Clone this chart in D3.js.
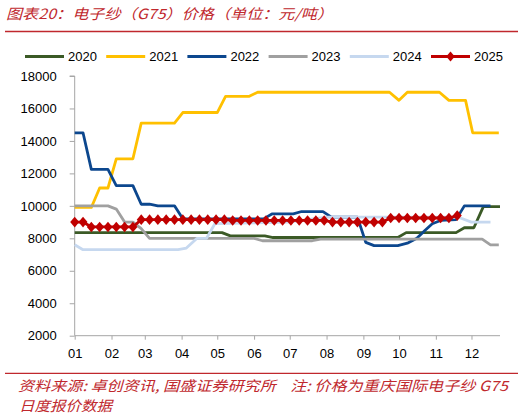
<!DOCTYPE html>
<html>
<head>
<meta charset="utf-8">
<script src="https://cdn.jsdelivr.net/npm/d3@7"></script>
<style>
  body { margin: 0; background: #fff; }
  svg { display: block; }
  .note { white-space: pre; }
</style>
</head>
<body>
<svg id="chart" width="526" height="419"></svg>
<script>
// series: [month-day, price]
const years = ["2020", "2021", "2022", "2023", "2024", "2025"];
const colors = ["#3b5a26", "#ffc000", "#0c478e", "#a0a0a0", "#c6d8ef", "#c00000"];

const s2020 = [["01-01", 8350], ["05-05", 8350], ["05-12", 8150], ["06-10", 8150], ["06-17", 8050],
  ["09-30", 8050], ["10-07", 8350], ["11-18", 8350], ["11-25", 8650], ["12-03", 8650],
  ["12-11", 9950], ["12-25", 9950]];
const s2021 = [["01-01", 9900], ["01-15", 9900], ["01-22", 11100], ["01-29", 11100], ["02-05", 12900],
  ["02-19", 12900], ["02-26", 15100], ["03-26", 15100], ["04-02", 15750], ["05-01", 15750],
  ["05-08", 16750], ["05-28", 16750], ["06-04", 17000], ["09-23", 17000], ["10-01", 16500],
  ["10-08", 17000], ["11-04", 17000], ["11-12", 16500], ["11-26", 16500], ["12-02", 14500],
  ["12-24", 14500]];
const s2022 = [["01-01", 14500], ["01-08", 14500], ["01-15", 12250], ["01-29", 12250], ["02-05", 11250],
  ["02-19", 11250], ["02-26", 10100], ["03-05", 10100], ["03-12", 10000], ["03-26", 10000],
  ["04-02", 9200], ["06-09", 9200], ["06-16", 9500], ["07-04", 9500], ["07-11", 9650],
  ["07-29", 9650], ["08-05", 9300], ["08-27", 9300], ["09-03", 7750], ["09-10", 7550],
  ["09-30", 7550], ["10-08", 7700], ["10-16", 8000], ["10-23", 8500], ["10-29", 8900],
  ["11-05", 9100], ["11-18", 9150], ["11-25", 10000], ["12-17", 10000]];
const s2023 = [["01-01", 10000], ["01-29", 10000], ["02-05", 9800], ["02-12", 9000], ["02-19", 9000],
  ["02-26", 8600], ["03-05", 8000], ["06-01", 8000], ["06-08", 7850], ["07-20", 7850],
  ["07-27", 7950], ["12-10", 7950], ["12-17", 7600], ["12-24", 7600]];
const s2024 = [["01-01", 7600], ["01-08", 7300], ["03-29", 7300], ["04-05", 7400], ["04-14", 8000],
  ["04-22", 8000], ["04-29", 8900], ["06-30", 9000], ["08-01", 9300], ["11-20", 9300],
  ["12-01", 9000], ["12-17", 9000]];
const dates2025 = ["01-01", "01-08", "01-15", "01-22", "01-29", "02-05", "02-12", "02-19", "02-26",
  "03-05", "03-12", "03-19", "03-26", "04-02", "04-09", "04-16", "04-23", "04-30",
  "05-07", "05-14", "05-21", "05-28", "06-04", "06-11", "06-18", "06-25",
  "07-02", "07-09", "07-16", "07-23", "07-30", "08-06", "08-13", "08-20", "08-27",
  "09-03", "09-10", "09-17", "09-24", "10-01", "10-08", "10-15", "10-22", "10-29",
  "11-05", "11-12", "11-19"];
const values2025 = [9000, 9000, 8700, 8700, 8700, 8700, 8700, 8700, 9150,
  9150, 9150, 9150, 9150, 9150, 9150, 9150, 9150, 9150,
  9150, 9100, 9100, 9100, 9100, 9100, 9100, 9100,
  9100, 9100, 9100, 9100, 9100, 9000, 9000, 9000, 9000,
  9000, 9000, 9000, 9250, 9250, 9250, 9250, 9250, 9250,
  9250, 9250, 9400];

const yTicks = [2000, 4000, 6000, 8000, 10000, 12000, 14000, 16000, 18000];

const titleText = "图表20：电子纱（G75）价格（单位：元/吨）";
const noteLine1 = "资料来源: 卓创资讯, 国盛证券研究所    注: 价格为重庆国际电子纱 G75";
const noteLine2 = "日度报价数据";

const red = "#c0282d";
const axisColor = "#a6a6a6";
const numFont = "'Liberation Sans', Arial, sans-serif";
const cjkFont = "'Noto Sans CJK SC', sans-serif";

let parse = (md) => d3.utcParse("%Y-%m-%d")("2023-" + md);

let svg = d3.select("#chart");

let x = d3.scaleUtc()
  .domain([parse("01-01"), parse("12-25")])
  .range([74.7, 500]);
let y = d3.scaleLinear()
  .domain([2000, 18000])
  .range([335.7, 76]);

//###############################################
// header
//###############################################
svg.append("text")
  .attr("x", 6).attr("y", 19)
  .attr("textLength", 327).attr("lengthAdjust", "spacingAndGlyphs")
  .style("font-family", cjkFont).style("font-size", "14px").style("font-style", "italic")
  .attr("fill", red)
  .text(titleText);

svg.append("line")
  .attr("x1", 5).attr("x2", 518).attr("y1", 31.5).attr("y2", 31.5)
  .attr("stroke", red).attr("stroke-width", 1.3);

// legend
let legend = svg.append("g").attr("id", "legend");
years.forEach((yr, i) => {
  let lx = 25 + i * 81.2;
  let g = legend.append("g").attr("transform", `translate(${lx},56.5)`);
  g.append("line")
    .attr("x1", 0).attr("x2", 39).attr("y1", 0).attr("y2", 0)
    .attr("stroke", colors[i]).attr("stroke-width", 3);
  if (yr === "2025") {
    g.append("path")
      .attr("d", "M19.5,-5L23.8,0L19.5,5L15.2,0Z")
      .attr("fill", colors[i]);
  }
  g.append("text")
    .attr("x", 43).attr("y", 4.6)
    .style("font-family", numFont).style("font-size", "13px")
    .attr("fill", "#000")
    .text(yr);
});

//###############################################
// axes
//###############################################
let yAxis = svg.append("g")
  .attr("transform", "translate(74.7,0)")
  .call(d3.axisLeft(y).tickValues(yTicks).tickSize(5).tickPadding(13).tickFormat(d3.format("d")));
yAxis.select(".domain").attr("stroke", axisColor).attr("d", `M-5,${y(18000)}H0V${y(2000)}`);
yAxis.selectAll(".tick line").attr("stroke", axisColor);
yAxis.selectAll(".tick text")
  .style("font-family", numFont).style("font-size", "13px").attr("fill", "#000");

let xAxis = svg.append("g")
  .attr("transform", `translate(0,${y(2000)})`)
  .call(d3.axisBottom(x).ticks(d3.utcMonth.every(1)).tickFormat(d3.utcFormat("%m"))
    .tickSize(4).tickPadding(9));
xAxis.select(".domain").attr("stroke", axisColor).attr("d", `M${x.range()[0]},0H${x.range()[1]}`);
xAxis.selectAll(".tick line").attr("stroke", axisColor);
xAxis.selectAll(".tick text")
  .style("font-family", numFont).style("font-size", "13px").attr("fill", "#000");

//###############################################
// series
//###############################################
let line = d3.line()
  .x((d) => x(d.date))
  .y((d) => y(d.value));

let toPoints = (pairs) => pairs.map((p) => ({date: parse(p[0]), value: p[1]}));
let series = [s2020, s2021, s2022, s2023, s2024].map(toPoints);
series.push(dates2025.map((md, i) => ({date: parse(md), value: values2025[i]})));

let lines = svg.append("g").attr("id", "lines");
lines.selectAll("path")
  .data(series)
  .enter()
  .append("path")
    .attr("d", line)
    .attr("fill", "none")
    .attr("stroke", (d, i) => colors[i])
    .attr("stroke-width", 2.8)
    .attr("stroke-linejoin", "round");

let diamond = {
  draw: function(ctx, size) {
    let w = 4.5, h = 5.3;
    ctx.moveTo(0, -h); ctx.lineTo(w, 0); ctx.lineTo(0, h); ctx.lineTo(-w, 0); ctx.closePath();
  }
};

svg.append("g").attr("id", "markers")
  .selectAll("path")
  .data(series[5])
  .enter()
  .append("path")
    .attr("transform", (d) => `translate(${x(d.date)},${y(d.value)})`)
    .attr("d", d3.symbol().type(diamond))
    .attr("fill", colors[5]);

//###############################################
// footnote
//###############################################
svg.append("line")
  .attr("x1", 5).attr("x2", 518).attr("y1", 373.3).attr("y2", 373.3)
  .attr("stroke", red).attr("stroke-width", 1.3);

svg.append("text")
  .attr("class", "note")
  .attr("x", 18).attr("y", 390.5)
  .attr("textLength", 490).attr("lengthAdjust", "spacingAndGlyphs")
  .style("font-family", cjkFont).style("font-size", "14px").style("font-style", "italic")
  .attr("fill", red)
  .text(noteLine1);

svg.append("text")
  .attr("class", "note")
  .attr("x", 19).attr("y", 410.5)
  .attr("textLength", 93).attr("lengthAdjust", "spacingAndGlyphs")
  .style("font-family", cjkFont).style("font-size", "14px").style("font-style", "italic")
  .attr("fill", red)
  .text(noteLine2);
</script>
</body>
</html>
